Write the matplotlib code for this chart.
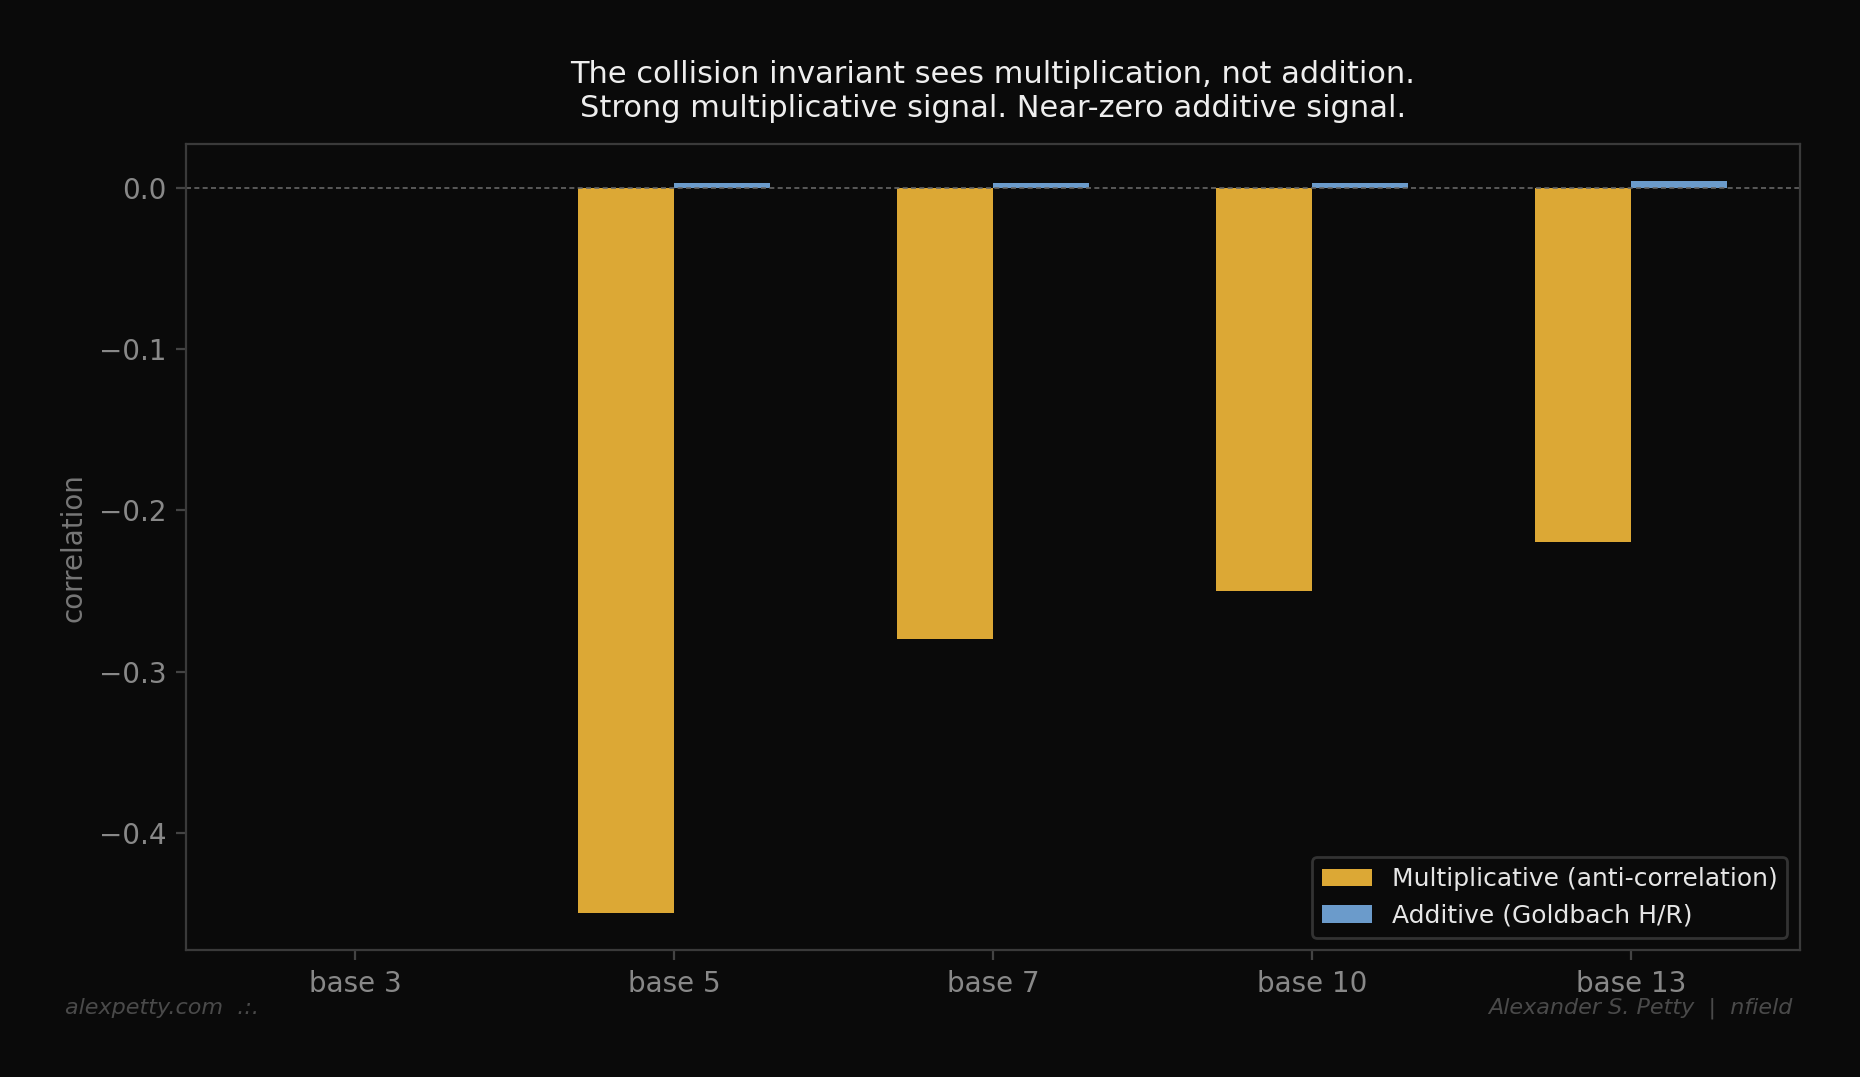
import numpy as np
import matplotlib
matplotlib.use("Agg")
import matplotlib.pyplot as plt

# data (base 3 has no values)
bases = ["base 3", "base 5", "base 7", "base 10", "base 13"]
multiplicative = [np.nan, -0.45, -0.28, -0.25, -0.22]
additive = [np.nan, 0.0025, 0.0025, 0.0025, 0.0043]

bg = "#0a0a0a"
orange = "#dca835"
blue = "#6b9bcb"

fig = plt.figure(figsize=(9.3, 5.3855), dpi=200, facecolor=bg)
ax = fig.add_axes([0.1, 0.1178, 0.8677, 0.748])
ax.set_facecolor(bg)

x = np.arange(len(bases))
w = 0.3
ax.bar(x - w / 2, multiplicative, w, color=orange, label="Multiplicative (anti-correlation)")
ax.bar(x + w / 2, additive, w, color=blue, label="Additive (Goldbach H/R)")
ax.axhline(0, color="#666666", linestyle="--", linewidth=0.6, dashes=(3, 2))

ax.set_xticks(x)
ax.set_xticklabels(bases)
ax.set_xlim(-0.53, 4.53)
ax.set_ylim(-0.4727, 0.0267)
ax.set_yticks([0.0, -0.1, -0.2, -0.3, -0.4])
ax.set_ylabel("correlation", color="#777777", fontsize=10)

ax.tick_params(colors="#444444", labelcolor="#888888", labelsize=10)
for s in ax.spines.values():
    s.set_color("#3a3a3a")
    s.set_linewidth(0.8)

ax.set_title("The collision invariant sees multiplication, not addition.\n"
             "Strong multiplicative signal. Near-zero additive signal.",
             color="#eeeeee", fontsize=11, pad=10)

leg = ax.legend(loc="lower right", fontsize=9, facecolor=bg, edgecolor="#333333",
                labelcolor="#e6e6e6", framealpha=1)

fig.text(0.035, 0.064, "alexpetty.com  .:.", color="#4a4a4a", fontsize=8,
         style="italic", ha="left", va="center")
fig.text(0.964, 0.064, "Alexander S. Petty  |  nfield", color="#4a4a4a", fontsize=8,
         style="italic", ha="right", va="center")

fig.savefig("out.png", dpi=200, facecolor=bg)
